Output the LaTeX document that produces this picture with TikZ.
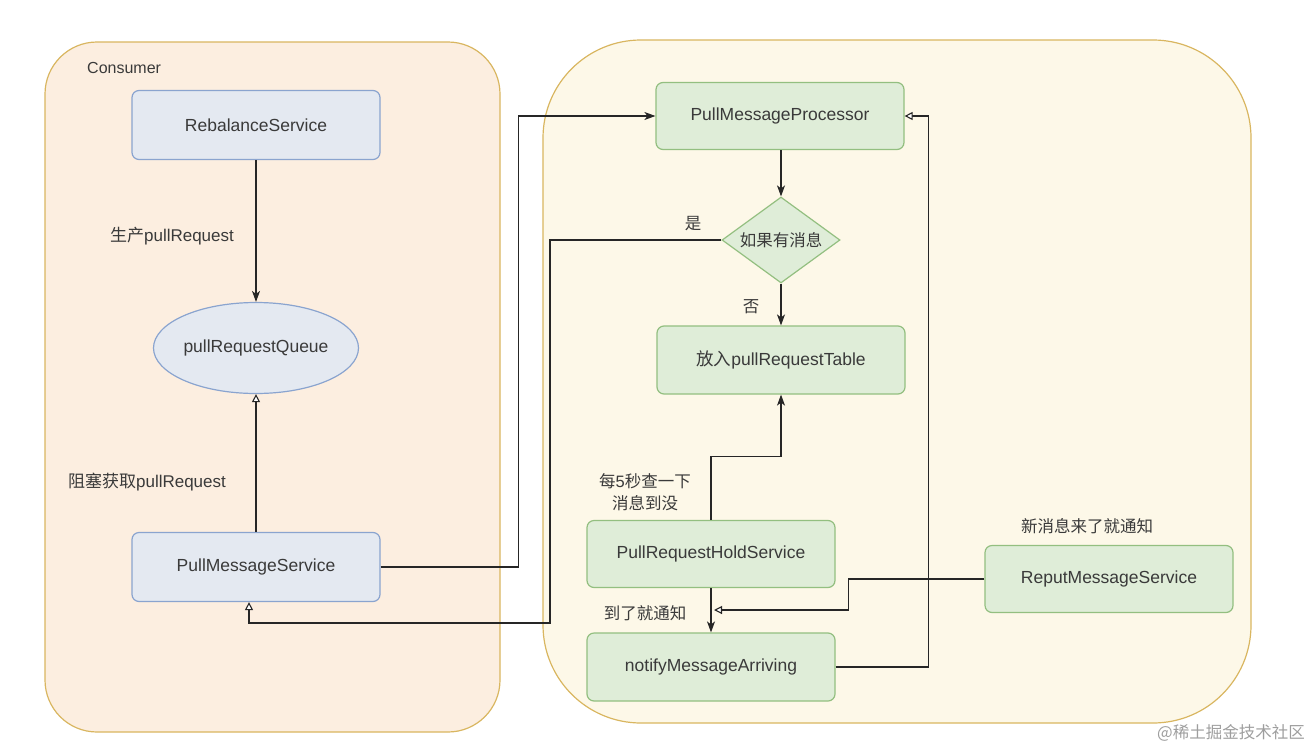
\documentclass[tikz,border=0pt]{standalone}
\usepackage{fontspec}
\setmainfont{Liberation Sans}
\newfontfamily\cjk{Noto Sans CJK SC}
\usetikzlibrary{shapes.geometric,arrows.meta}
\definecolor{txt}{HTML}{3A3A3A}
\definecolor{contline}{HTML}{D9B660}
\definecolor{leftfill}{HTML}{FCEEE0}
\definecolor{rightfill}{HTML}{FDF8E8}
\definecolor{bluefill}{HTML}{E4E9F1}
\definecolor{blueline}{HTML}{8AA4CF}
\definecolor{greenfill}{HTML}{DFEDD8}
\definecolor{greenline}{HTML}{93BF80}
\begin{document}
\begin{tikzpicture}[x=1pt,y=-1pt,
  container/.style={draw=contline, line width=1.2pt},
  bbox/.style={draw=blueline, fill=bluefill, line width=1.2pt, rounded corners=7pt,
    minimum width=248pt, minimum height=69pt, text=txt, font=\fontsize{17.5}{21}\selectfont},
  gbox/.style={draw=greenline, fill=greenfill, line width=1.2pt, rounded corners=7pt,
    minimum width=248pt, minimum height=67pt, text=txt, font=\fontsize{17.5}{21}\selectfont},
  lbl/.style={text=txt, font=\fontsize{17}{21}\selectfont, inner sep=0pt},
  clbl/.style={text=txt, font=\cjk\fontsize{16.5}{20}\selectfont, inner sep=0pt},
  arr/.style={draw=black!85, line width=1.1pt, -{Stealth[length=11pt,width=8pt,inset=3pt]}},
  oarr/.style={draw=black!85, line width=1.1pt, -{Triangle[open,length=8pt,width=8pt,fill=white,line width=1.1pt]}},
]
\useasboundingbox (0,0) rectangle (1306,750);
% containers
\draw[container, fill=leftfill, rounded corners=52pt] (45,42) rectangle (500,732);
\draw[container, fill=rightfill, rounded corners=98pt] (543,40) rectangle (1251,723);
\node[lbl, anchor=west, font=\fontsize{16}{19}\selectfont] (consumer) at (87,68) {Consumer};

% left nodes
\node[bbox] (rbs) at (256,125) {RebalanceService};
\node[ellipse, draw=blueline, fill=bluefill, line width=1.2pt, minimum width=202pt, minimum height=91pt,
  inner sep=0pt, text=txt, font=\fontsize{17.5}{21}\selectfont] (prq) at (256,348) {pullRequestQueue};
\node[bbox] (pms) at (256,567) {PullMessageService};

% right nodes
\node[gbox] (pmp) at (780,116) {PullMessageProcessor};
\node[diamond, draw=greenline, fill=greenfill, line width=1.2pt, minimum width=118pt, minimum height=86pt,
  inner sep=0pt, aspect=1.4, text=txt, font=\cjk\fontsize{16.5}{20}\selectfont] (dia) at (781,240) {如果有消息};
\node[gbox, minimum height=68pt] (tbl) at (781,360) {{\cjk 放入}pullRequestTable};
\node[gbox] (hold) at (711,554) {PullRequestHoldService};
\node[gbox, minimum height=68pt] (nma) at (711,667) {notifyMessageArriving};
\node[gbox] (rep) at (1109,579) {ReputMessageService};

% labels
\node[lbl] (l1) at (172,236) {{\cjk 生产}pullRequest};
\node[lbl] (l2) at (147,482) {{\cjk 阻塞获取}pullRequest};
\node[clbl] (l3) at (693,224) {是};
\node[clbl] (l4) at (751,307) {否};
\node[lbl, align=center, font=\fontsize{16.5}{22}\selectfont] (l5) at (645,492) {{\cjk 每}5{\cjk 秒查一下}\\{\cjk 消息到没}};
\node[clbl] (l6) at (645,613) {到了就通知};
\node[clbl] (l7) at (1087,526) {新消息来了就通知};
\node[text=black!38, font=\cjk\fontsize{16.5}{18}\selectfont, inner sep=0pt] (wm) at (1231,733) {@稀土掘金技术社区};

% connectors
\draw[arr] (rbs.south) -- (prq.north);
\draw[oarr] (pms.north) -- (prq.south);
\draw[arr] (pms.east) -- ++(138,0) |- (pmp.west);
\draw[oarr] (dia.west) -| (550,623) -| ([xshift=-7pt]pms.south);
\draw[arr] ([xshift=1pt]pmp.south) -- (dia.north);
\draw[arr] (dia.south) -- (tbl.north);
\draw[arr] (hold.north) -- ++(0,-63) -| (tbl.south);
\draw[arr] (hold.south) -- (nma.north);
\draw[oarr] (nma.east) -- ++(93,0) |- (pmp.east);
\coordinate (mid) at (714,610);
\draw[oarr] (rep.west) -- ++(-136,0) |- (mid);
\end{tikzpicture}
\end{document}
